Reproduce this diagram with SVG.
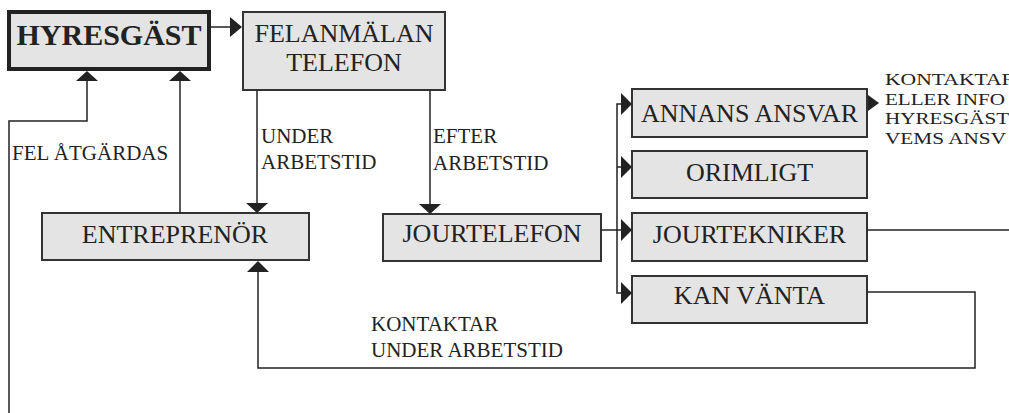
<svg xmlns="http://www.w3.org/2000/svg" width="1009" height="413" viewBox="0 0 1009 413">
  <style>
    .box { fill: #e4e4e4; stroke: #333; stroke-width: 2; }
    .main { fill: #e4e4e4; stroke: #222; stroke-width: 4; }
    .lbl { font-family: "Liberation Serif", "Times New Roman", serif; font-size: 26px; fill: #222; text-anchor: middle; }
    .big { font-family: "Liberation Serif", "Times New Roman", serif; font-size: 30px; font-weight: bold; fill: #222; text-anchor: middle; }
    .note { font-family: "Liberation Serif", "Times New Roman", serif; font-size: 21px; fill: #222; }
    .small { font-family: "Liberation Serif", "Times New Roman", serif; font-size: 17px; fill: #222; }
    .wire { fill: none; stroke: #222; stroke-width: 1.5; }
    .head { fill: #222; stroke: none; }
  </style>

  <!-- nodes -->
  <g id="hyresgast">
    <rect class="main" x="9" y="12" width="200" height="57"/>
    <text class="big" x="109" y="45">HYRESGÄST</text>
  </g>
  <g id="felanmalan">
    <rect class="box" x="243" y="12" width="202" height="78"/>
    <text class="lbl" x="344" y="42">FELANMÄLAN</text>
    <text class="lbl" x="344" y="71">TELEFON</text>
  </g>
  <g id="entreprenor">
    <rect class="box" x="42" y="213" width="267" height="47"/>
    <text class="lbl" x="175" y="243">ENTREPRENÖR</text>
  </g>
  <g id="jourtelefon">
    <rect class="box" x="383" y="214" width="218" height="47"/>
    <text class="lbl" x="492" y="242">JOURTELEFON</text>
  </g>
  <g id="annans-ansvar">
    <rect class="box" x="632" y="89" width="235" height="48"/>
    <text class="lbl" x="749.5" y="122">ANNANS ANSVAR</text>
  </g>
  <g id="orimligt">
    <rect class="box" x="632" y="151" width="235" height="47"/>
    <text class="lbl" x="749.5" y="181">ORIMLIGT</text>
  </g>
  <g id="jourtekniker">
    <rect class="box" x="632" y="213" width="235" height="48"/>
    <text class="lbl" x="749.5" y="243">JOURTEKNIKER</text>
  </g>
  <g id="kan-vanta">
    <rect class="box" x="632" y="276" width="235" height="47"/>
    <text class="lbl" x="749.5" y="304">KAN VÄNTA</text>
  </g>

  <!-- connectors -->
  <g id="connectors">
    <!-- tenant -> fault report phone -->
    <line class="wire" x1="211" y1="27" x2="231" y2="27"/>
    <path class="head" d="M230,17 L242,27 L230,37 Z"/>

    <!-- fault fixed: back up to tenant -->
    <polyline class="wire" points="9,413 9,121 87,121 87,80"/>
    <path class="head" d="M76,81 L87,71 L98,81 Z"/>
    <line class="wire" x1="180" y1="213" x2="180" y2="80"/>
    <path class="head" d="M169,81 L180,71 L191,81 Z"/>

    <!-- during working hours -->
    <line class="wire" x1="257" y1="90" x2="257" y2="204"/>
    <path class="head" d="M246,203 L257,213 L268,203 Z"/>

    <!-- after working hours -->
    <line class="wire" x1="430" y1="90" x2="430" y2="205"/>
    <path class="head" d="M419,204 L430,214 L441,204 Z"/>

    <!-- on-call phone fan-out -->
    <line class="wire" x1="601" y1="230" x2="622" y2="230"/>
    <polyline class="wire" points="622,104 617,104 617,293 622,293"/>
    <line class="wire" x1="617" y1="167" x2="622" y2="167"/>
    <path class="head" d="M621,93 L632,104 L621,115 Z"/>
    <path class="head" d="M621,156 L632,167 L621,178 Z"/>
    <path class="head" d="M621,219 L632,230 L621,241 Z"/>
    <path class="head" d="M621,282 L632,293 L621,304 Z"/>

    <!-- someone else's responsibility -->
    <path class="head" d="M868,95 L879,103 L868,111 Z"/>

    <!-- on-call technician -->
    <line class="wire" x1="867" y1="230" x2="1009" y2="230"/>

    <!-- can wait: contractor contacted during working hours -->
    <polyline class="wire" points="867,292 975,292 975,368 258,368 258,272"/>
    <path class="head" d="M247,272 L258,261 L269,272 Z"/>
  </g>

  <!-- connector labels -->
  <g id="labels">
    <text class="note" x="261" y="143">UNDER</text>
    <text class="note" x="261" y="169">ARBETSTID</text>
    <text class="note" x="433" y="143">EFTER</text>
    <text class="note" x="433" y="170">ARBETSTID</text>
    <text class="note" x="12" y="160">FEL ÅTGÄRDAS</text>
    <text class="note" x="371" y="331">KONTAKTAR</text>
    <text class="note" x="371" y="357">UNDER ARBETSTID</text>
    <text class="small" x="885" y="85" textLength="131" lengthAdjust="spacingAndGlyphs">KONTAKTAR</text>
    <text class="small" x="885" y="104.5" textLength="120" lengthAdjust="spacingAndGlyphs">ELLER INFO</text>
    <text class="small" x="885" y="124" textLength="124" lengthAdjust="spacingAndGlyphs">HYRESGÄST</text>
    <text class="small" x="885" y="143.5" textLength="121" lengthAdjust="spacingAndGlyphs">VEMS ANSV</text>
  </g>
</svg>
